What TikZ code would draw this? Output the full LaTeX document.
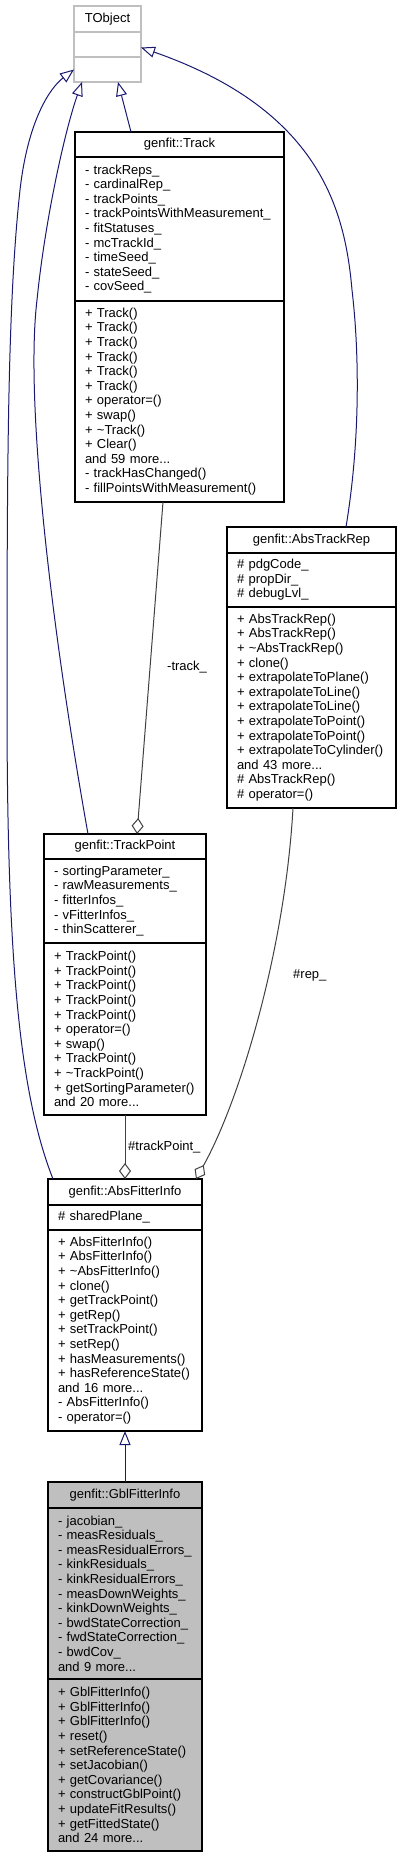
\documentclass[tikz,border=0pt]{standalone}
\usepackage{fontspec}
\setmainfont{Liberation Sans}
\usetikzlibrary{positioning,arrows.meta}

\definecolor{inhcol}{HTML}{191970}
\definecolor{usecol}{HTML}{404040}
\definecolor{grey75}{HTML}{BFBFBF}

\begin{document}
\begin{tikzpicture}[x=1pt, y=-1pt,
  box/.style={draw=black, line width=1.2pt, inner xsep=10pt, inner ysep=0pt, outer sep=0pt,
    align=left, anchor=north west, font=\fontsize{13pt}{14.6pt}\selectfont},
  head/.style={box, align=center},
  wd/.style 2 args={minimum width=#1, text width=#2},
  lbl/.style={anchor=west, inner sep=0pt, font=\fontsize{13pt}{14.6pt}\selectfont},
  inherit/.style={draw=inhcol, line width=1pt, -{Triangle[open, length=14pt, width=11pt]}},
  usage/.style={draw=usecol, line width=1pt, -{Diamond[open, length=16pt, width=12pt]}}]

\useasboundingbox (0,0) rectangle (401,1857);

% TObject
\node[head, draw=grey75, wd={67pt}{47pt}, minimum height=26pt] (tobj) at (74,6) {TObject};
\node[box, draw=grey75, wd={67pt}{47pt}, minimum height=25pt, below=0pt of tobj] (tobja) {};
\node[box, draw=grey75, wd={67pt}{47pt}, minimum height=25pt, below=0pt of tobja] (tobjm) {};

% genfit::Track
\node[head, wd={209pt}{189pt}, minimum height=25pt] (track) at (75,132) {genfit::Track};
\node[box, wd={209pt}{189pt}, minimum height=144pt, below=0pt of track] (tracka)
  {-~trackReps\_\\-~cardinalRep\_\\-~trackPoints\_\\-~trackPointsWithMeasurement\_\\
   -~fitStatuses\_\\-~mcTrackId\_\\-~timeSeed\_\\-~stateSeed\_\\-~covSeed\_};
\node[box, wd={209pt}{189pt}, minimum height=201pt, below=0pt of tracka] (trackm)
  {+~Track()\\+~Track()\\+~Track()\\+~Track()\\+~Track()\\+~Track()\\
   +~operator=()\\+~swap()\\+~\textasciitilde Track()\\+~Clear()\\and 59 more...\\
   -~trackHasChanged()\\-~fillPointsWithMeasurement()};

% genfit::AbsTrackRep
\node[head, wd={169pt}{149pt}, minimum height=26pt] (rep) at (227,527) {genfit::AbsTrackRep};
\node[box, wd={169pt}{149pt}, minimum height=54pt, below=0pt of rep] (repa)
  {\#~pdgCode\_\\\#~propDir\_\\\#~debugLvl\_};
\node[box, wd={169pt}{149pt}, minimum height=201pt, below=0pt of repa] (repm)
  {+~AbsTrackRep()\\+~AbsTrackRep()\\+~\textasciitilde AbsTrackRep()\\+~clone()\\
   +~extrapolateToPlane()\\+~extrapolateToLine()\\+~extrapolateToLine()\\
   +~extrapolateToPoint()\\+~extrapolateToPoint()\\+~extrapolateToCylinder()\\
   and 43 more...\\\#~AbsTrackRep()\\\#~operator=()};

% genfit::TrackPoint
\node[head, wd={162pt}{142pt}, minimum height=25pt] (tp) at (44,834) {genfit::TrackPoint};
\node[box, wd={162pt}{142pt}, minimum height=84pt, below=0pt of tp] (tpa)
  {-~sortingParameter\_\\-~rawMeasurements\_\\-~fitterInfos\_\\-~vFitterInfos\_\\
   -~thinScatterer\_};
\node[box, wd={162pt}{142pt}, minimum height=172pt, below=0pt of tpa] (tpm)
  {+~TrackPoint()\\+~TrackPoint()\\+~TrackPoint()\\+~TrackPoint()\\+~TrackPoint()\\
   +~operator=()\\+~swap()\\+~TrackPoint()\\+~\textasciitilde TrackPoint()\\
   +~getSortingParameter()\\and 20 more...};

% genfit::AbsFitterInfo
\node[head, wd={154pt}{134pt}, minimum height=26pt] (afi) at (48,1179) {genfit::AbsFitterInfo};
\node[box, wd={154pt}{134pt}, minimum height=25pt, below=0pt of afi] (afia) {\#~sharedPlane\_};
\node[box, wd={154pt}{134pt}, minimum height=201pt, below=0pt of afia] (afim)
  {+~AbsFitterInfo()\\+~AbsFitterInfo()\\+~\textasciitilde AbsFitterInfo()\\+~clone()\\
   +~getTrackPoint()\\+~getRep()\\+~setTrackPoint()\\+~setRep()\\+~hasMeasurements()\\
   +~hasReferenceState()\\and 16 more...\\-~AbsFitterInfo()\\-~operator=()};

% genfit::GblFitterInfo
\node[head, fill=grey75, wd={154pt}{134pt}, minimum height=26pt] (gbl) at (48,1482) {genfit::GblFitterInfo};
\node[box, fill=grey75, wd={154pt}{134pt}, minimum height=171pt, below=0pt of gbl] (gbla)
  {-~jacobian\_\\-~measResiduals\_\\-~measResidualErrors\_\\-~kinkResiduals\_\\
   -~kinkResidualErrors\_\\-~measDownWeights\_\\-~kinkDownWeights\_\\
   -~bwdStateCorrection\_\\-~fwdStateCorrection\_\\-~bwdCov\_\\and 9 more...};
\node[box, fill=grey75, wd={154pt}{134pt}, minimum height=172pt, below=0pt of gbla] (gblm)
  {+~GblFitterInfo()\\+~GblFitterInfo()\\+~GblFitterInfo()\\+~reset()\\
   +~setReferenceState()\\+~setJacobian()\\+~getCovariance()\\+~constructGblPoint()\\
   +~updateFitResults()\\+~getFittedState()\\and 24 more...};

% Inheritance
\draw[inherit] ([xshift=56pt]track.north west) -- ([xshift=44pt]tobjm.south west);
\draw[inherit] ([xshift=119pt]rep.north west) .. controls (362,430) and (358,340) .. (352,290)
  .. controls (345,210) and (320,110) .. ([yshift=-3pt]tobja.east);
\draw[inherit] ([xshift=44pt]tp.north west) .. controls (50,620) and (25,400) .. (37,300)
  .. controls (45,220) and (65,130) .. ([xshift=8pt]tobjm.south west);
\draw[inherit] ([xshift=5pt]afi.north west) .. controls (18,1090) and (7,950) .. (7,700)
  .. controls (7,450) and (8,300) .. (20,190) .. controls (28,120) and (50,88) .. (tobjm.west);
\draw[inherit] ([xshift=77pt]gbl.north west) -- ([xshift=77pt]afim.south west);

% Usage
\draw[usage] ([xshift=88pt]trackm.south west) -- ([xshift=93pt]tp.north west);
\draw[usage] ([xshift=66pt]repm.south west) .. controls (285,950) and (240,1100) .. ([xshift=-6pt]afi.north east);
\draw[usage] ([xshift=81pt]tpm.south west) -- ([xshift=77pt]afi.north west);

% Roles
\node[lbl] (trackrole) at (167,667) {-track\_};
\node[lbl] (reprole) at (293,975) {\#rep\_};
\node[lbl] (tprole) at (128,1147) {\#trackPoint\_};

\end{tikzpicture}
\end{document}
